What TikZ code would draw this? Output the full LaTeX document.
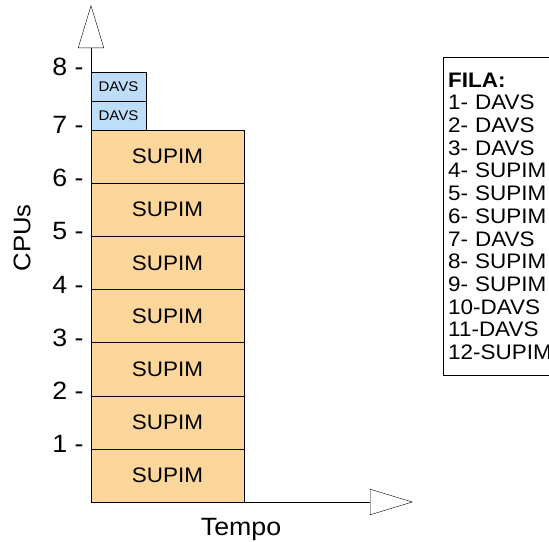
\documentclass[tikz,border=0pt]{standalone}
\usepackage{fontspec}
\setmainfont{Liberation Sans}[FakeStretch=1.07]
\usetikzlibrary{arrows.meta,positioning}
\definecolor{supimfill}{RGB}{253,214,155}
\definecolor{davsfill}{RGB}{190,221,248}
\tikzset{x=1pt, y=-1pt, % one unit per pixel, y grows downwards
line width=2pt, % all lines the same weight
axis/.style={-{Triangle[length=43pt,width=26pt,fill=white]}}, % open head of an axis
job/.style={draw, outer sep=0pt, inner sep=0pt}, % a box of the stack
}

\begin{document}
\begin{tikzpicture}[
	supim/.style={job, fill=supimfill, minimum width=153pt, minimum height=53.14pt, font=\fontsize{21}{23}\selectfont},
	davs/.style={job, fill=davsfill, minimum width=55pt, minimum height=29pt, font=\fontsize{14}{16}\selectfont},
	tick/.style={anchor=east, xshift=-4pt, yshift=5pt, font=\fontsize{25}{27}\selectfont}]
\clip (0,0) rectangle (549,541);
\node[supim, anchor=south west] (s1) at (91,502) {SUPIM};
\node[supim, above=0pt of s1] (s2) {SUPIM};
\node[supim, above=0pt of s2] (s3) {SUPIM};
\node[supim, above=0pt of s3] (s4) {SUPIM};
\node[supim, above=0pt of s4] (s5) {SUPIM};
\node[supim, above=0pt of s5] (s6) {SUPIM};
\node[supim, above=0pt of s6] (s7) {SUPIM};
\node[davs, anchor=south west] (d1) at (s7.north west) {DAVS};
\node[davs, above=0pt of d1] (d2) {DAVS};
\coordinate (o) at (91,502);
\coordinate (ytip) at (91,5);
\coordinate (xtip) at (413,502);
\draw[axis] (o) -- (ytip);
\draw[axis] (o) -- (xtip);
\foreach \i/\n in {1/s1,2/s2,3/s3,4/s4,5/s5,6/s6,7/s7}
	\node[tick] (t\i) at (\n.north west) {\i\ -};
\node[tick] (t8) at (d2.north west) {8 -};
\node[rotate=90, font=\fontsize{24}{26}\selectfont] (cpus) at (22,238) {CPUs};
\node[font=\fontsize{25}{27}\selectfont] (tempo) at (241,529) {Tempo};
\node[draw, anchor=north west, text width=120pt, align=left, inner xsep=5pt, inner ysep=0pt,
	minimum height=318pt, font=\fontsize{21}{22.7}\selectfont] (fila) at (443,57)
	{\textbf{FILA:}\\1- DAVS\\2- DAVS\\3- DAVS\\4- SUPIM\\5- SUPIM\\6- SUPIM\\7- DAVS\\8- SUPIM\\9- SUPIM\\10-DAVS\\11-DAVS\\12-SUPIM};
\end{tikzpicture}
\end{document}
